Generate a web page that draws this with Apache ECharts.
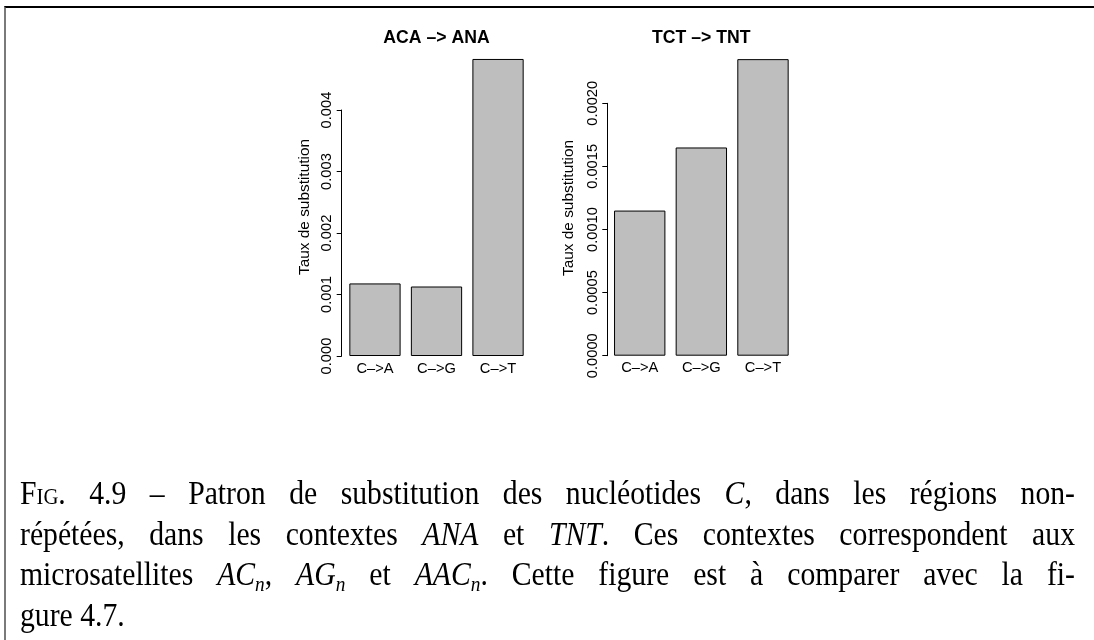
<!DOCTYPE html>
<html>
<head>
<meta charset="utf-8">
<script src="https://cdn.jsdelivr.net/npm/echarts@6/dist/echarts.min.js"></script>
<style>
  html, body { margin: 0; padding: 0; background: #fff; }
  #wrap { position: relative; width: 1094px; height: 640px; overflow: hidden; background: #fff; }
  #chart { position: absolute; left: 0; top: 0; width: 1094px; height: 640px; }
  #frame { position: absolute; left: 4px; top: 6px; right: 0; bottom: -4px;
           border-top: 2px solid #000; border-left: 2px solid #7a7a7a; pointer-events: none; }
  #caption { position: absolute; left: 20px; top: 473px;
             font-family: "Liberation Serif", "DejaVu Serif", serif; font-size: 33px;
             line-height: 40.5px; color: #000; transform-origin: 0 0; }
  #caption .ln { display: block; white-space: nowrap; }
  #caption .ln span.t { display: inline-block; white-space: nowrap; }
  #caption .sc { font-variant: small-caps; }
  #caption sub { font-size: 65%; line-height: 0; vertical-align: -0.3em; }
</style>
</head>
<body>
<div id="wrap">
  <div id="chart"></div>
  <div id="frame"></div>
  <div id="caption">
    <div class="ln j"><span class="t"><span class="sc">Fig.</span> 4.9 – Patron de substitution des nucléotides <i>C</i>, dans les régions non-</span></div>
    <div class="ln j"><span class="t">répétées, dans les contextes <i>ANA</i> et <i>TNT</i>. Ces contextes correspondent aux</span></div>
    <div class="ln j"><span class="t">microsatellites <i>AC<sub>n</sub></i>, <i>AG<sub>n</sub></i> et <i>AAC<sub>n</sub></i>. Cette figure est à comparer avec la fi-</span></div>
    <div class="ln"><span class="t">gure 4.7.</span></div>
  </div>
</div>
<script>
// Substitution types on the x axis
const categories = ['C–>A', 'C–>G', 'C–>T'];
// Substitution rates, context ACA -> ANA
const ratesANA = [0.00118, 0.00113, 0.00483];
// Substitution rates, context TCT -> TNT
const ratesTNT = [0.00115, 0.00165, 0.00235];
// Y tick labels of each panel
const ticksANA = ['0.000', '0.001', '0.002', '0.003', '0.004'];
const ticksTNT = ['0.0000', '0.0005', '0.0010', '0.0015', '0.0020'];
// Panel titles and y axis name
const panelTitles = ['ACA –> ANA', 'TCT –> TNT'];
const yName = 'Taux de substitution';

const FONT = '"Liberation Sans", Arial, sans-serif';
const BASE = 14.7;

const chart = echarts.init(document.getElementById('chart'), null, { renderer: 'canvas' });

function yAxisFor(gridIndex, ticks, step, offset) {
  return {
    type: 'value', gridIndex: gridIndex,
    min: 0, max: step * (ticks.length - 1), interval: step,
    offset: offset,
    axisLine: { show: true, lineStyle: { color: '#000', width: 1 } },
    axisTick: { show: true, length: 5, lineStyle: { color: '#000', width: 1 } },
    splitLine: { show: false },
    axisLabel: {
      rotate: 90, margin: 7, color: '#000', fontSize: BASE, fontFamily: FONT,
      formatter: function (v) {
        const i = Math.round(v / step);
        return ticks[i] !== undefined ? ticks[i] : '';
      }
    }
  };
}

function xAxisFor(gridIndex) {
  return {
    type: 'category', gridIndex: gridIndex, data: categories,
    axisLine: { show: false }, axisTick: { show: false },
    axisLabel: { color: '#000', fontSize: BASE, fontFamily: FONT, margin: 5 }
  };
}

function barSeries(idx, values) {
  return {
    type: 'bar', xAxisIndex: idx, yAxisIndex: idx, data: values,
    barWidth: '83.33%', clip: false, silent: true,
    itemStyle: { color: '#bebebe', borderColor: '#000', borderWidth: 1 }
  };
}

function textEl(str, x, y, size, weight, rotation) {
  return {
    type: 'text', x: x, y: y, rotation: rotation || 0, silent: true,
    style: {
      text: str, fill: '#000', font: weight + ' ' + size + 'px ' + FONT,
      textAlign: 'center', textVerticalAlign: 'middle'
    }
  };
}

chart.setOption({
  animation: false,
  backgroundColor: '#fff',
  grid: [
    { left: 344.2, top: 110, width: 184.6, height: 246 },
    { left: 608.9, top: 103.3, width: 184.9, height: 252.4 }
  ],
  xAxis: [xAxisFor(0), xAxisFor(1)],
  yAxis: [
    yAxisFor(0, ticksANA, 0.001, 2.5),
    yAxisFor(1, ticksTNT, 0.0005, 1.6)
  ],
  series: [barSeries(0, ratesANA), barSeries(1, ratesTNT)],
  graphic: [
    textEl(panelTitles[0], 436.5, 38, BASE * 1.2, 'bold'),
    textEl(panelTitles[1], 701.3, 38, BASE * 1.2, 'bold'),
    textEl(yName, 305, 207, 15.4, 'normal', Math.PI / 2),
    textEl(yName, 569, 208, 15.4, 'normal', Math.PI / 2)
  ]
});

// Caption: tall serif set in justified lines across the full measure
(function () {
  const cap = document.getElementById('caption');
  const measure = 1055;
  const stretch = 0.9;
  cap.style.transform = 'scaleX(' + stretch + ')';
  const target = measure / stretch;
  cap.querySelectorAll('.ln.j').forEach(function (ln) {
    const t = ln.querySelector('span.t');
    const spaces = (t.textContent.match(/ /g) || []).length;
    const w = t.getBoundingClientRect().width / stretch;
    if (spaces > 0) t.style.wordSpacing = ((target - w) / spaces) + 'px';
  });
})();
</script>
</body>
</html>
